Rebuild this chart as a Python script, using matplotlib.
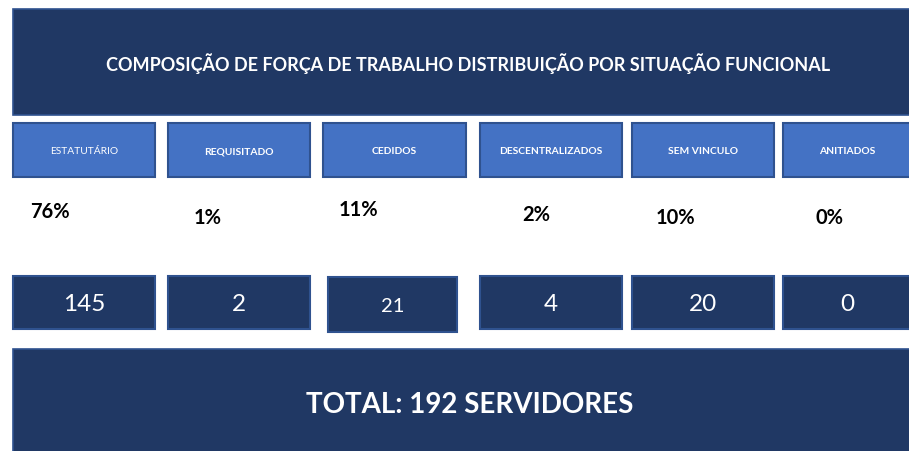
import matplotlib
matplotlib.use("Agg")
import matplotlib.pyplot as plt
from matplotlib.patches import Rectangle

# --- data ---
categorias = ["ESTATUTÁRIO", "REQUISITADO", "CEDIDOS", "DESCENTRALIZADOS", "SEM VINCULO", "ANITIADOS"]
percentuais = ["76%", "1%", "11%", "2%", "10%", "0%"]
quantidades = [145, 2, 21, 4, 20, 0]
total = 192
titulo = "COMPOSIÇÃO DE FORÇA DE TRABALHO DISTRIBUIÇÃO POR SITUAÇÃO FUNCIONAL"

# --- layout (pixels) ---
label_x = [(13, 155), (168, 310), (323, 466), (480, 622), (632, 774), (783, 912)]
valor_x = [(13, 155), (168, 310), (328, 457), (480, 622), (632, 774), (783, 912)]
pct_pos = [(50, 212), (208, 218), (358, 210), (536, 215), (675, 218), (829, 218)]

navy = "#203864"
azul = "#4472C4"
borda = "#2F528F"
font = ["Lato", "DejaVu Sans"]

fig = plt.figure(figsize=(9.09, 4.52), dpi=100, facecolor="white")
ax = fig.add_axes([0, 0, 1, 1])
ax.set_xlim(0, 909)
ax.set_ylim(452, 0)
ax.axis("off")

# header
ax.add_patch(Rectangle((13, 10), 900, 106, facecolor=navy, edgecolor=borda, lw=1.2))
ax.text(468, 64, titulo, color="white", ha="center", va="center",
        fontsize=13, fontweight="bold", family=font)

# category labels
for i, (x0, x1) in enumerate(label_x):
    ax.add_patch(Rectangle((x0, 124), x1 - x0, 54, facecolor=azul, edgecolor=borda, lw=1.5))
    ax.text((x0 + x1) / 2, 152, categorias[i], color="white", ha="center", va="center",
            fontsize=7.4, fontweight="normal" if i == 0 else "bold", family=font)

# percentages
for i, (px, py) in enumerate(pct_pos):
    ax.text(px, py, percentuais[i], color="black", ha="center", va="center",
            fontsize=14.5, fontweight="bold", family=font)

# counts
for i, (x0, x1) in enumerate(valor_x):
    y0, h = (278, 55) if i == 2 else (277, 53)
    ax.add_patch(Rectangle((x0, y0), x1 - x0, h, facecolor=navy, edgecolor=borda, lw=1.5))
    ax.text((x0 + x1) / 2, y0 + h / 2 + 1, str(quantidades[i]), color="white",
            ha="center", va="center", fontsize=14.5 if i == 2 else 17.5, family=font)

# total
ax.add_patch(Rectangle((13, 350), 900, 110, facecolor=navy, edgecolor=borda, lw=1.2))
ax.text(470, 405, f"TOTAL: {total} SERVIDORES", color="white", ha="center", va="center",
        fontsize=20, fontweight="bold", family=font)

fig.savefig("out.png", dpi=100, facecolor="white")
